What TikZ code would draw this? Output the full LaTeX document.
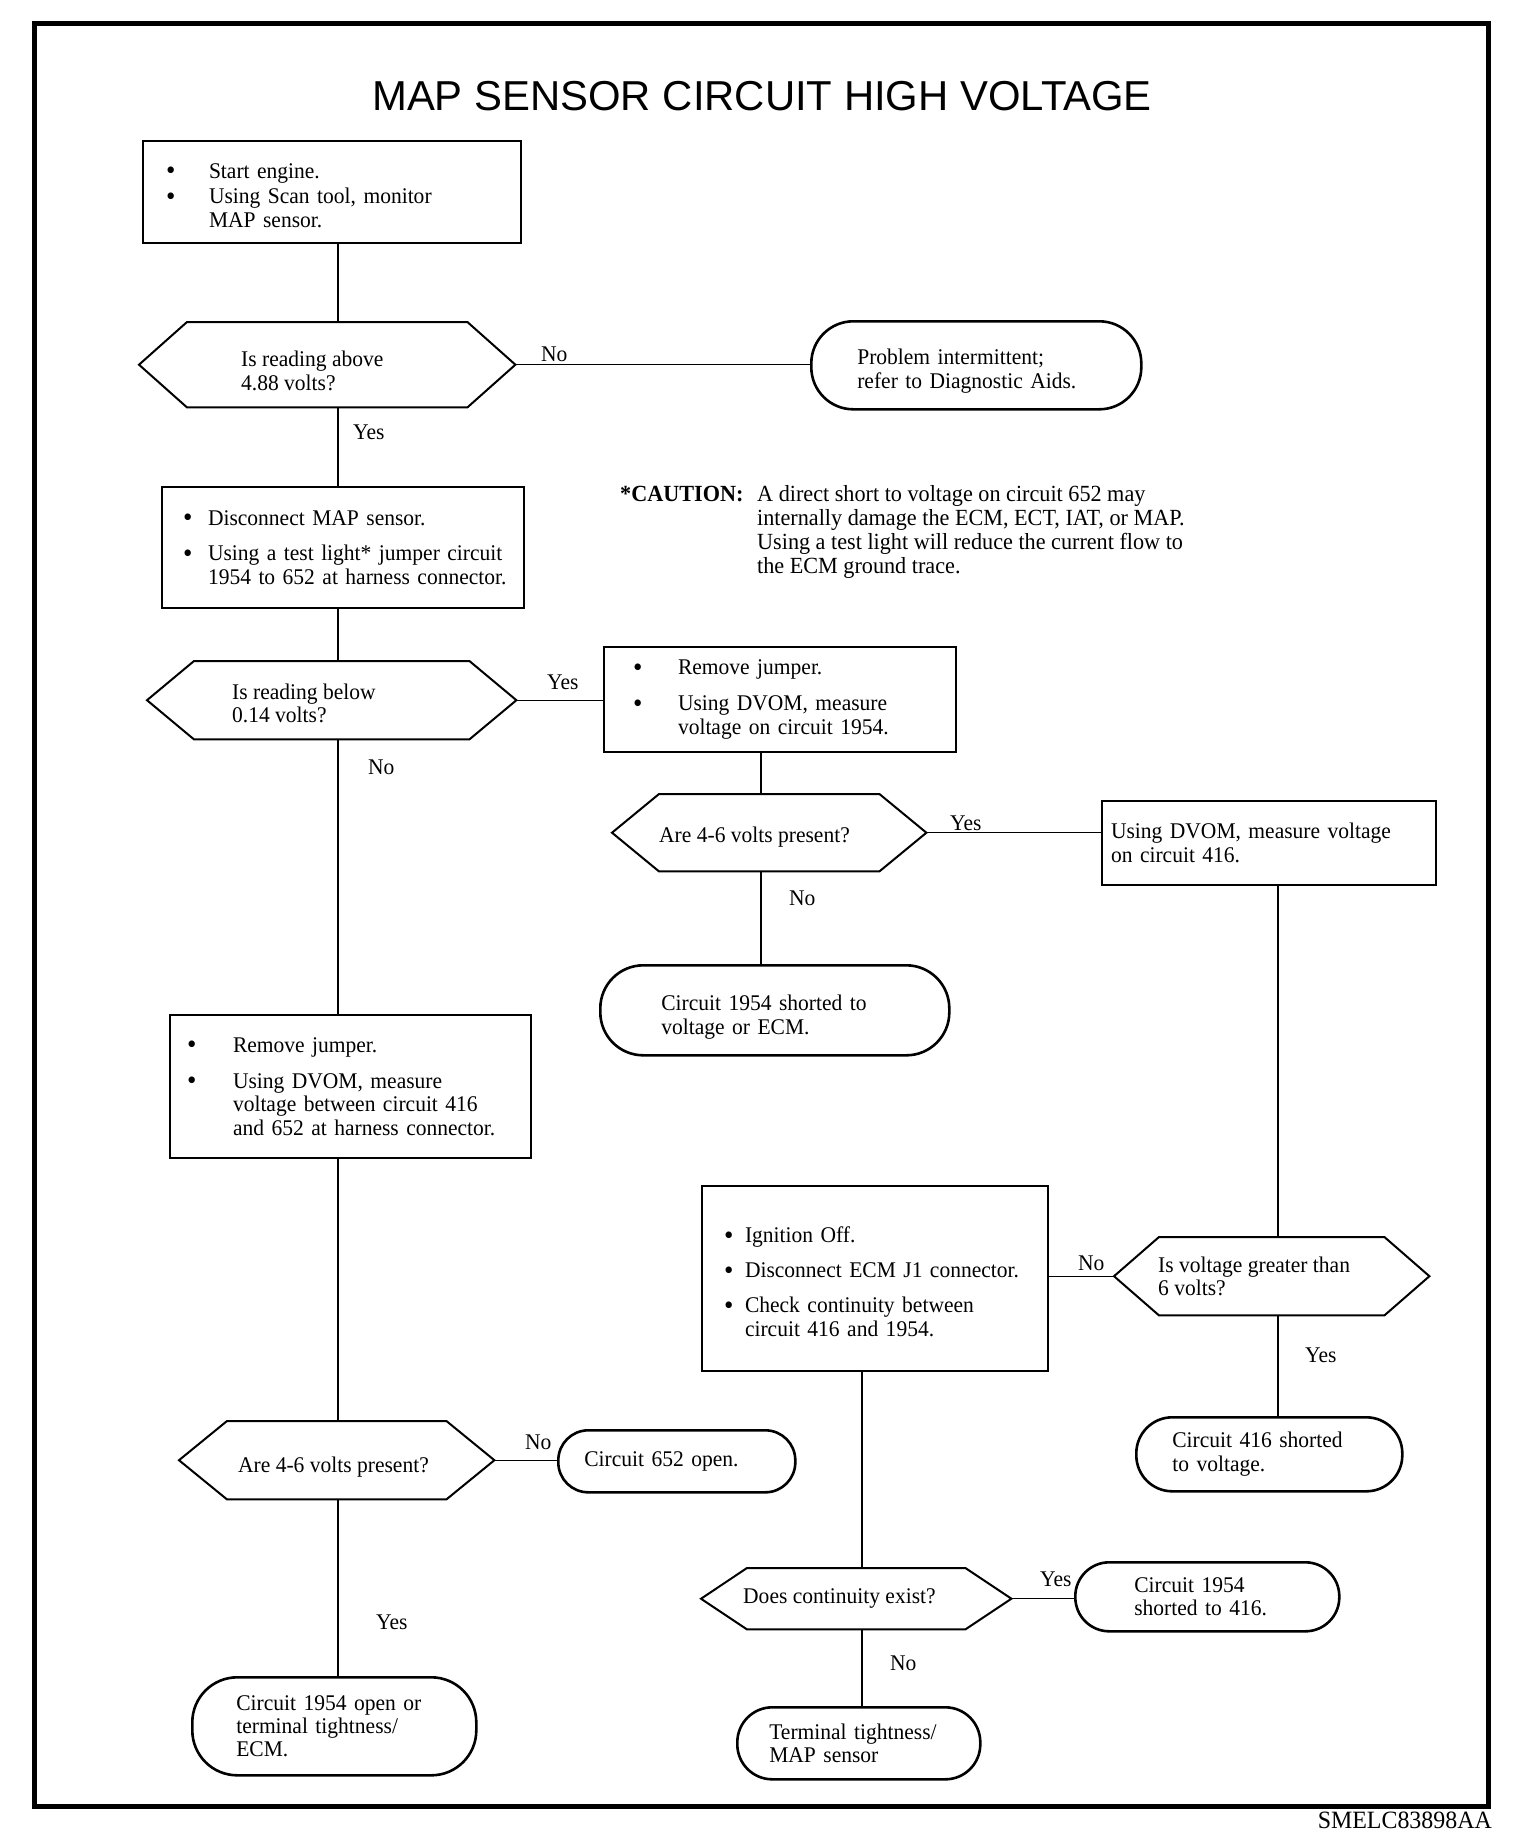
\documentclass[tikz,border=0pt]{standalone}
\usepackage{fontspec}
\setmainfont[FakeStretch=0.96]{Liberation Serif}
\newfontfamily\titlefont{Liberation Sans}
\usetikzlibrary{calc}
\newcommand{\dotb}{\raisebox{-1.5bp}{\fontsize{28}{28}\selectfont\textbullet}}
\newcommand{\BL}[2]{\mbox{\makebox[#1][l]{\dotb}#2}}
\newcommand{\CL}[2]{\mbox{\hspace*{#1}#2}}
\newcommand{\dn}[1]{\rule{0pt}{#1}}
\newcommand{\bodyfont}{\fontsize{22.5}{23.5}\selectfont}
\newcommand{\hexout}[2]{\draw[hexline] (#1.west) -- ([xshift=#2]#1.north west) -- ([xshift=-#2]#1.north east) -- (#1.east) -- ([xshift=-#2]#1.south east) -- ([xshift=#2]#1.south west) -- cycle;}
\begin{document}
\begin{tikzpicture}[x=1bp,y=-1bp,
  txt/.style={font=\bodyfont, align=left, inner ysep=0pt},
  boxs/.style={txt, draw, line width=2bp, rectangle, anchor=north west},
  hexn/.style={rectangle, inner sep=0pt, anchor=north west},
  hext/.style={txt, inner sep=0pt, anchor=west},
  hexline/.style={line width=2bp, line join=miter},
  term/.style={txt, draw, line width=2.6bp, anchor=north west},
  conn/.style={line width=1.3bp},
  lbl/.style={font=\bodyfont, anchor=west, inner sep=0pt}]
\useasboundingbox (0,0) rectangle (1536,1844);
\draw[line width=5bp] (34.5,23) rectangle (1488,1806);

\node[anchor=base, inner sep=0pt, font=\titlefont\fontsize{42}{46}\selectfont] (title) at (762,110) {MAP SENSOR CIRCUIT HIGH VOLTAGE};

% boxes
\node[boxs, text width=332bp, inner xsep=23bp, minimum height=102bp] (b1) at (142,140)
 {\BL{43bp}{\dn{22bp}Start engine.}\\[2bp]\BL{43bp}{Using Scan tool, monitor}\\\CL{43bp}{MAP sensor.}};
\node[hexn, minimum width=376bp, minimum height=85bp] (h1) at (139,322) {};
\hexout{h1}{48bp}
\node[hext] (h1t) at ([xshift=102bp,yshift=-6bp]h1.west) {Is reading above\\4.88 volts?};
\node[term, rounded corners=42bp, text width=238bp, inner xsep=46bp, minimum height=88bp] (t1) at (810,320)
 {\mbox{\dn{27.5bp}Problem intermittent;}\\\mbox{refer to Diagnostic Aids.}};
\node[boxs, text width=320bp, inner xsep=21bp, minimum height=121bp] (b2) at (161,486)
 {\BL{25bp}{Disconnect MAP sensor.}\\[12bp]\BL{25bp}{Using a test light* jumper circuit}\\\CL{25bp}{1954 to 652 at harness connector.}};
\node[anchor=base west, inner sep=0pt, font=\fontsize{23.2}{24.3}\selectfont] (caut) at (620,501)
 {\begin{tabular}[t]{@{}p{137bp}@{}l@{}}\textbf{*CAUTION:} & A direct short to voltage on circuit 652 may\\
  & internally damage the ECM, ECT, IAT, or MAP.\\
  & Using a test light will reduce the current flow to\\
  & the ECM ground trace.\end{tabular}};
\node[hexn, minimum width=369bp, minimum height=78bp] (h2) at (147,661) {};
\hexout{h2}{47bp}
\node[hext] (h2t) at ([xshift=85bp,yshift=-3bp]h2.west) {Is reading below\\0.14 volts?};
\node[boxs, text width=294bp, inner xsep=29bp, minimum height=105bp] (b3) at (603,646)
 {\BL{45bp}{Remove jumper.}\\[12.5bp]\BL{45bp}{Using DVOM, measure}\\\CL{45bp}{voltage on circuit 1954.}};
\node[hexn, minimum width=314bp, minimum height=77bp] (h3) at (612,794) {};
\hexout{h3}{47bp}
\node[hext] (h3t) at ([xshift=47bp,yshift=-4bp]h3.west) {Are 4-6 volts present?};
\node[boxs, text width=316bp, inner xsep=9bp, minimum height=84bp] (b5) at (1101,800)
 {\mbox{Using DVOM, measure voltage}\\\mbox{on circuit 416.}};
\node[term, rounded corners=43bp, text width=227bp, inner xsep=61bp, minimum height=90bp] (t2) at (599,964)
 {\mbox{\dn{29.5bp}Circuit 1954 shorted to}\\\mbox{voltage or ECM.}};
\node[boxs, text width=327bp, inner xsep=17bp, minimum height=143bp] (b4) at (169,1014)
 {\BL{46bp}{Remove jumper.}\\[12.5bp]\BL{46bp}{Using DVOM, measure}\\\CL{46bp}{voltage between circuit 416}\\\CL{46bp}{and 652 at harness connector.}};
\node[boxs, text width=302bp, inner xsep=22bp, minimum height=185bp] (b6) at (701,1185)
 {\BL{21bp}{\dn{22.5bp}Ignition Off.}\\[11.5bp]\BL{21bp}{Disconnect ECM J1 connector.}\\[11.5bp]\BL{21bp}{Check continuity between}\\\CL{21bp}{circuit 416 and 1954.}};
\node[hexn, minimum width=315bp, minimum height=78bp] (h4) at (1114,1237) {};
\hexout{h4}{45bp}
\node[hext] (h4t) at ([xshift=44bp]h4.west) {Is voltage greater than\\6 volts?};
\node[term, rounded corners=36bp, text width=194bp, inner xsep=36bp, minimum height=74bp] (t3) at (1135,1416)
 {\mbox{Circuit 416 shorted}\\\mbox{to voltage.}};
\node[hexn, minimum width=315bp, minimum height=78bp] (h5) at (179,1421) {};
\hexout{h5}{48bp}
\node[hext] (h5t) at ([xshift=59bp,yshift=-7bp]h5.west) {Are 4-6 volts present?};
\node[term, rounded corners=30bp, text width=185bp, inner xsep=26bp, minimum height=62bp] (t4) at (557,1429)
 {\mbox{Circuit 652 open.}};
\node[term, rounded corners=45bp, text width=196bp, inner xsep=44bp, minimum height=98bp] (t5) at (191,1676)
 {\mbox{Circuit 1954 open or}\\\mbox{terminal tightness/}\\\mbox{ECM.}};
\node[hexn, minimum width=310bp, minimum height=61bp] (h6) at (701,1568) {};
\hexout{h6}{46bp}
\node[hext] (h6t) at ([xshift=42bp]h6.west) {Does continuity exist?};
\node[term, rounded corners=34bp, text width=146bp, inner xsep=59bp, minimum height=69bp] (t6) at (1074,1561)
 {\mbox{Circuit 1954}\\\mbox{shorted to 416.}};
\node[term, rounded corners=35bp, text width=179bp, inner xsep=32bp, minimum height=72bp] (t7) at (736,1706)
 {\mbox{Terminal tightness/}\\\mbox{MAP sensor}};

\node[anchor=base east, inner sep=0pt, font=\fontsize{25}{26}\selectfont] (code) at (1492,1828) {SMELC83898AA};

% connectors
\coordinate (vA) at (338,0);
\coordinate (vB) at (761,0);
\coordinate (vC) at (1278,0);
\coordinate (vD) at (862,0);
\draw[conn] (b1.south -| vA) -- (h1.north -| vA);
\draw[conn] (h1.south -| vA) -- (b2.north -| vA);
\draw[conn] (b2.south -| vA) -- (h2.north -| vA);
\draw[conn] (h2.south -| vA) -- (b4.north -| vA);
\draw[conn] (b4.south -| vA) -- (h5.north -| vA);
\draw[conn] (h5.south -| vA) -- (t5.north -| vA);
\draw[conn] (h1.east) -- (t1.west |- h1.east);
\draw[conn] (h2.east) -- (b3.west |- h2.east);
\draw[conn] (b3.south -| vB) -- (h3.north -| vB);
\draw[conn] (h3.east) -- (b5.west |- h3.east);
\draw[conn] (h3.south -| vB) -- (t2.north -| vB);
\draw[conn] (b5.south -| vC) -- (h4.north -| vC);
\draw[conn] (h4.west) -- (b6.east |- h4.west);
\draw[conn] (h4.south -| vC) -- (t3.north -| vC);
\draw[conn] (h5.east) -- (t4.west |- h5.east);
\draw[conn] (b6.south -| vD) -- (h6.north -| vD);
\draw[conn] (h6.east) -- (t6.west |- h6.east);
\draw[conn] (h6.south -| vD) -- (t7.north -| vD);

% labels
\node[lbl] (l1) at (541,354) {No};
\node[lbl] (l2) at (353,432) {Yes};
\node[lbl] (l3) at (547,682) {Yes};
\node[lbl] (l4) at (368,767) {No};
\node[lbl] (l5) at (950,823) {Yes};
\node[lbl] (l6) at (789,898) {No};
\node[lbl] (l7) at (1078,1263) {No};
\node[lbl] (l8) at (1305,1355) {Yes};
\node[lbl] (l9) at (525,1442) {No};
\node[lbl] (l10) at (376,1622) {Yes};
\node[lbl] (l11) at (1040,1579) {Yes};
\node[lbl] (l12) at (890,1663) {No};
\end{tikzpicture}
\end{document}
